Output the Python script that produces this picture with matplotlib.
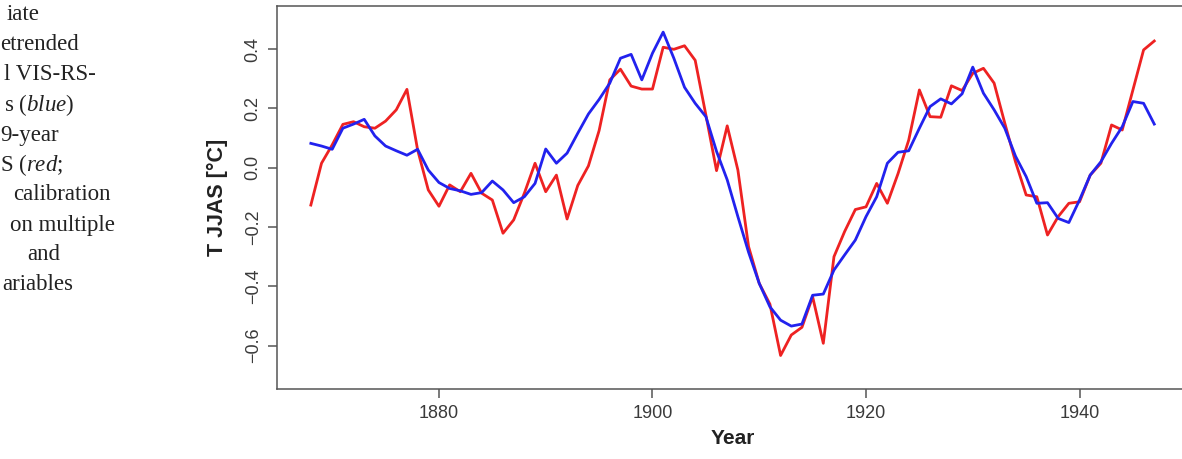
import numpy as np
import matplotlib
matplotlib.use("Agg")
import matplotlib.pyplot as plt

plt.rcParams['mathtext.fontset'] = 'custom'
plt.rcParams['mathtext.rm'] = 'Liberation Serif'
plt.rcParams['mathtext.it'] = 'Liberation Serif:italic'

years = np.arange(1868, 1948)

# red: reconstruction
recon = [-0.126, 0.015, 0.077, 0.146, 0.155, 0.138, 0.133, 0.157, 0.195, 0.264,
         0.060, -0.075, -0.130, -0.058, -0.081, -0.019, -0.086, -0.109, -0.221, -0.176,
         -0.086, 0.015, -0.081, -0.025, -0.173, -0.060, 0.006, 0.125, 0.296, 0.332,
         0.275, 0.265, 0.265, 0.406, 0.399, 0.411, 0.362, 0.178, -0.010, 0.141,
         -0.008, -0.266, -0.390, -0.460, -0.633, -0.564, -0.538, -0.435, -0.592, -0.300,
         -0.215, -0.141, -0.132, -0.053, -0.120, -0.020, 0.093, 0.262, 0.172, 0.170,
         0.276, 0.260, 0.318, 0.335, 0.285, 0.150, 0.020, -0.092, -0.098, -0.227,
         -0.165, -0.120, -0.115, -0.025, 0.015, 0.144, 0.127, 0.262, 0.397, 0.427]

# blue: measured
meas = [0.082, 0.073, 0.062, 0.133, 0.147, 0.163, 0.107, 0.073, 0.057, 0.042,
        0.062, -0.008, -0.050, -0.070, -0.078, -0.090, -0.084, -0.045, -0.075, -0.118,
        -0.098, -0.053, 0.063, 0.015, 0.049, 0.116, 0.181, 0.230, 0.285, 0.369,
        0.382, 0.296, 0.386, 0.457, 0.369, 0.271, 0.217, 0.172, 0.055, -0.041,
        -0.165, -0.285, -0.390, -0.469, -0.514, -0.534, -0.527, -0.430, -0.426, -0.345,
        -0.294, -0.244, -0.165, -0.098, 0.015, 0.052, 0.057, 0.133, 0.206, 0.232,
        0.215, 0.249, 0.339, 0.251, 0.195, 0.133, 0.039, -0.030, -0.120, -0.118,
        -0.171, -0.185, -0.109, -0.025, 0.020, 0.082, 0.138, 0.223, 0.217, 0.147]

yticks = [-0.6, -0.4, -0.2, 0.0, 0.2, 0.4]
xticks = [1880, 1900, 1920, 1940]

caption = ["iate", "etrended", "l VIS-RS-", "s ($\\mathit{blue}$)", "9-year",
           "S ($\\mathit{red}$;", "calibration", "on multiple", "and", "ariables"]
cap_x = [7, 0, 4, 4, 0, 0, 13, 10, 27, 2]

fig = plt.figure(figsize=(11.82, 4.59), dpi=100)
ax = fig.add_axes([277/1182, 70/459, 911/1182, 383/459])

ax.plot(years, recon, color='#ee2222', lw=2.0)
ax.plot(years, meas, color='#2222ee', lw=2.0)

ax.set_xlim(1864.83, 1950.16)
ax.set_ylim(-0.746, 0.545)
ax.set_xticks(xticks)
ax.set_yticks(yticks)
ax.set_yticklabels([f"{v:.1f}".replace('-', '\u2212') for v in yticks],
                   rotation=90, va='center')

for s in ax.spines.values():
    s.set_color('#555555')
    s.set_linewidth(1.1)
ax.tick_params(axis='both', colors='#555555', labelcolor='#3a3a3a', labelsize=13,
               length=6.5, width=1.1)
ax.tick_params(axis='y', pad=4.5)
ax.tick_params(axis='x', pad=5)
for lab in ax.get_xticklabels() + ax.get_yticklabels():
    lab.set_family('Liberation Sans')

ax.set_xlabel('Year', fontsize=15, fontweight='bold', family='Liberation Sans',
              color='#222222', labelpad=5)
ax.set_ylabel('T JJAS [°C]', fontsize=15.5, fontweight='bold', family='Liberation Sans',
              color='#222222', labelpad=12)

for i, (t, x0) in enumerate(zip(caption, cap_x)):
    fig.text(x0/1182, 1 - (15 + 30*i)/459, t, family='Liberation Serif',
             fontsize=16.5, va='center', ha='left', color='#222222')

fig.savefig('out.png', dpi=100)
